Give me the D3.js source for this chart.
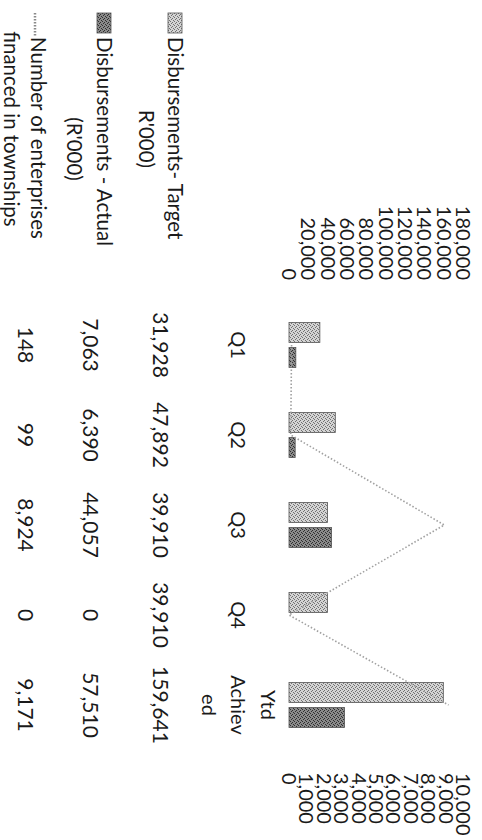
<!DOCTYPE html>
<html>
<head>
<meta charset="utf-8">
<script src="https://cdn.jsdelivr.net/npm/d3@7"></script>
<style>
  html, body { margin: 0; padding: 0; background: #fff; }
  svg { display: block; }
  text { font-family: Lato, "Open Sans", sans-serif; fill: #1a1a1a; }
</style>
</head>
<body>
<svg id="chart" width="482" height="840"></svg>
<script>
"use strict";

// chart data
const categories = ["Q1", "Q2", "Q3", "Q4", "Ytd Achieved"];
const categoryLines = [["Q1"], ["Q2"], ["Q3"], ["Q4"], ["Ytd", "Achiev", "ed"]];
const targetValues = [31928, 47892, 39910, 39910, 159641];
const actualValues = [7063, 6390, 44057, 0, 57510];
const enterpriseCounts = [148, 99, 8924, 0, 9171];
const leftTicks = [0, 20000, 40000, 60000, 80000, 100000, 120000, 140000, 160000, 180000];
const rightTicks = [0, 1000, 2000, 3000, 4000, 5000, 6000, 7000, 8000, 9000, 10000];
const seriesNames = ["target", "actual"];

// chart is drawn sideways, then turned 90deg clockwise
const plot = { left: 300, right: 750, top: 19, bottom: 193 };
const fmt = d3.format(",");

const svg = d3.select("#chart");
const defs = svg.append("defs");

// speckled fills, a bit like the scanned print
const makePattern = function (id, base, dots) {
  const p = defs.append("pattern")
    .attr("id", id)
    .attr("width", 4).attr("height", 4)
    .attr("patternUnits", "userSpaceOnUse");
  p.append("rect").attr("width", 4).attr("height", 4).attr("fill", base);
  for (let d of [[0, 0], [2, 1], [1, 3], [3, 2]]) {
    p.append("rect").attr("x", d[0]).attr("y", d[1]).attr("width", 1).attr("height", 1).attr("fill", dots);
  }
};
makePattern("patTarget", "#d4d4d4", "#707070");
makePattern("patActual", "#8a8a8a", "#2e2e2e");

const g = svg.append("g").attr("transform", "translate(482,0) rotate(90)");

// scales
const x0 = d3.scaleBand().domain(categories).range([plot.left, plot.right]);
const x1 = d3.scaleBand().domain(seriesNames)
  .range([x0.bandwidth() / 2 - 22.5, x0.bandwidth() / 2 + 22.5]).paddingInner(0.2);
const yLeft = d3.scaleLinear().domain([0, 180000]).range([plot.bottom, plot.top]);
const yRight = d3.scaleLinear().domain([0, 10000]).range([plot.bottom, plot.top]);

// axes (labels only)
const axL = g.append("g").attr("transform", "translate(280,0)")
  .call(d3.axisLeft(yLeft).tickValues(leftTicks).tickFormat(fmt).tickSize(0).tickPadding(0));
const axR = g.append("g").attr("transform", "translate(773,0)")
  .call(d3.axisRight(yRight).tickValues(rightTicks).tickFormat(fmt).tickSize(0).tickPadding(0));
for (let ax of [axL, axR]) {
  ax.select(".domain").remove();
  ax.attr("font-family", null).attr("font-size", null);
  ax.selectAll("text").style("font-size", "20px").attr("fill", "#1a1a1a");
}

// bars
const rows = categories.map((c, i) => ({ cat: c, target: targetValues[i], actual: actualValues[i] }));
const grp = g.selectAll("g.cat").data(rows).enter().append("g")
  .attr("class", "cat")
  .attr("transform", d => "translate(" + x0(d.cat) + ",0)");
grp.selectAll("rect")
  .data(d => seriesNames.map(s => ({ s: s, v: d[s] })))
  .enter().append("rect")
  .attr("x", d => x1(d.s))
  .attr("width", x1.bandwidth())
  .attr("y", d => yLeft(d.v))
  .attr("height", d => yLeft(0) - yLeft(d.v))
  .attr("fill", d => d.s === "target" ? "url(#patTarget)" : "url(#patActual)")
  .attr("stroke", d => d.v > 0 ? "#555" : "none")
  .attr("stroke-width", 0.8);

// line on secondary axis
const line = d3.line()
  .x((d, i) => x0(categories[i]) + x0.bandwidth() / 2)
  .y(d => yRight(d));
g.append("path")
  .datum(enterpriseCounts)
  .attr("d", line)
  .attr("fill", "none")
  .attr("stroke", "#a0a0a0")
  .attr("stroke-width", 1.6)
  .attr("stroke-dasharray", "1.5,2");

// data table: category header row
const headerY = 244, lineGap = 29.5;
categoryLines.forEach((lines, i) => {
  const cx = x0(categories[i]) + x0.bandwidth() / 2;
  const start = headerY - (lines.length - 1) * lineGap / 2;
  lines.forEach((t, j) => {
    g.append("text")
      .attr("x", cx).attr("y", start + j * lineGap)
      .attr("dy", "0.35em")
      .attr("text-anchor", "middle")
      .style("font-size", "20px")
      .text(t);
  });
});

// data table: value rows
const tableRows = [
  { vals: targetValues, y: 322 },
  { vals: actualValues, y: 392 },
  { vals: enterpriseCounts, y: 457 }
];
for (let r of tableRows) {
  r.vals.forEach((v, i) => {
    g.append("text")
      .attr("x", x0(categories[i]) + x0.bandwidth() / 2)
      .attr("y", r.y)
      .attr("dy", "0.35em")
      .attr("text-anchor", "middle")
      .style("font-size", "21px")
      .text(fmt(v));
  });
}

// row labels with legend keys
const rowLabels = [
  { l1: "Disbursements- Target", l2: "R'000)", y1: 307, y2: 336, c2: 139, key: "target" },
  { l1: "Disbursements - Actual", l2: "(R'000)", y1: 378, y2: 408, c2: 149, key: "actual" },
  { l1: "Number of enterprises", l2: "financed in townships", y1: 444, y2: 471, c2: 129, key: "line" }
];
for (let r of rowLabels) {
  g.append("text").attr("x", 37).attr("y", r.y1).attr("dy", "0.35em")
    .style("font-size", "20.5px").text(r.l1);
  g.append("text").attr("x", r.c2).attr("y", r.y2).attr("dy", "0.35em")
    .attr("text-anchor", "middle").style("font-size", "20.5px").text(r.l2);
  if (r.key === "line") {
    g.append("line").attr("x1", 13).attr("x2", 36).attr("y1", r.y1 + 3).attr("y2", r.y1 + 3)
      .attr("stroke", "#8a8a8a").attr("stroke-width", 2.5).attr("stroke-dasharray", "1.5,1.5");
  } else {
    g.append("rect").attr("x", 13).attr("y", r.y1 - 7).attr("width", 20).attr("height", 14)
      .attr("fill", r.key === "target" ? "url(#patTarget)" : "url(#patActual)")
      .attr("stroke", "#555").attr("stroke-width", 0.8);
  }
}
</script>
</body>
</html>
